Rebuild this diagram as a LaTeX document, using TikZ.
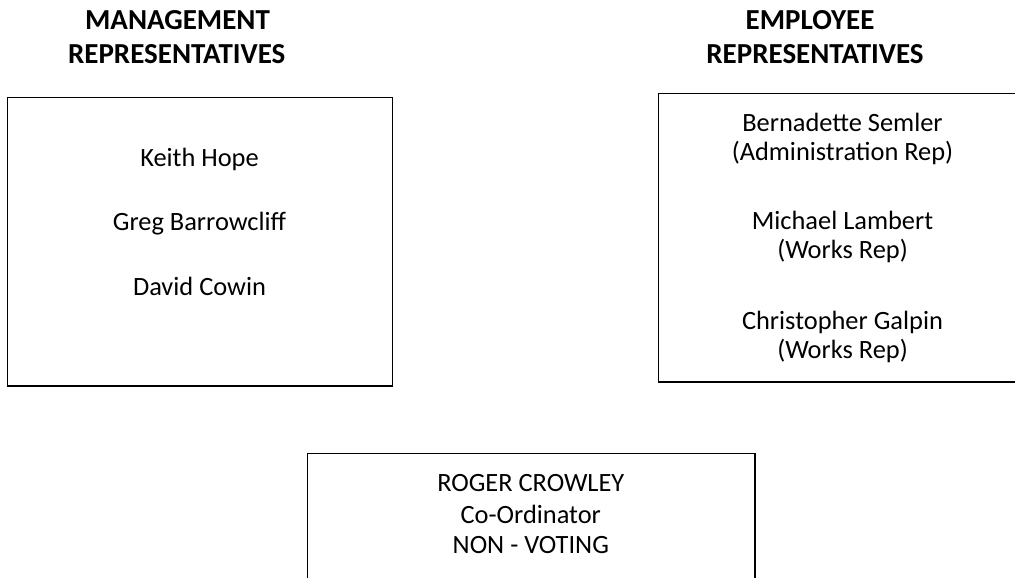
\documentclass[tikz,border=0pt]{standalone}
\usepackage{fontspec}
\setmainfont{Carlito}
\begin{document}
\begin{tikzpicture}[x=1pt,y=-1pt,
  boxframe/.style={draw=black, line width=1.6pt, inner sep=0pt, outer sep=0pt, rectangle},
  bodytext/.style={anchor=base, inner sep=0pt, font=\fontsize{26.4}{30}\selectfont},
  headtext/.style={anchor=base, inner sep=0pt, font=\fontsize{29}{33}\selectfont\bfseries}]
\useasboundingbox (0,0) rectangle (1015,578);
\clip (0,0) rectangle (1015,578);
\fill[white] (0,0) rectangle (1015,578);
% headers
\node[headtext] (mh1) at (177.5,30) {MANAGEMENT};
\node[headtext] (mh2) at (176.7,63.3) {REPRESENTATIVES};
\node[headtext] (eh1) at (810,30) {EMPLOYEE};
\node[headtext] (eh2) at (815,63.3) {REPRESENTATIVES};
% boxes
\node[boxframe, minimum width=385pt, minimum height=288.4pt] (mgmt) at (199.8,241.5) {};
\node[boxframe, minimum width=371.7pt, minimum height=288.2pt] (empl) at (844.2,237.6) {};
\node[boxframe, minimum width=447.7pt, minimum height=146.7pt] (coord) at (531.2,526.7) {};
% management names
\node[bodytext] (m1) at (199.5,166) {Keith Hope};
\node[bodytext] (m2) at (199.5,230.7) {Greg Barrowcliff};
\node[bodytext] (m3) at (199.5,295.5) {David Cowin};
% employee names
\node[bodytext] (e1) at (842.5,131) {Bernadette Semler};
\node[bodytext] (e2) at (842.5,160) {(Administration Rep)};
\node[bodytext] (e3) at (842.5,229.5) {Michael Lambert};
\node[bodytext] (e4) at (842.5,258.5) {(Works Rep)};
\node[bodytext] (e5) at (842.5,329.5) {Christopher Galpin};
\node[bodytext] (e6) at (842.5,358.5) {(Works Rep)};
% coordinator
\node[bodytext] (c1) at (530.8,491.7) {ROGER CROWLEY};
\node[bodytext] (c2) at (530.8,523.3) {Co-Ordinator};
\node[bodytext] (c3) at (530.8,553.3) {NON - VOTING};
\end{tikzpicture}
\end{document}
